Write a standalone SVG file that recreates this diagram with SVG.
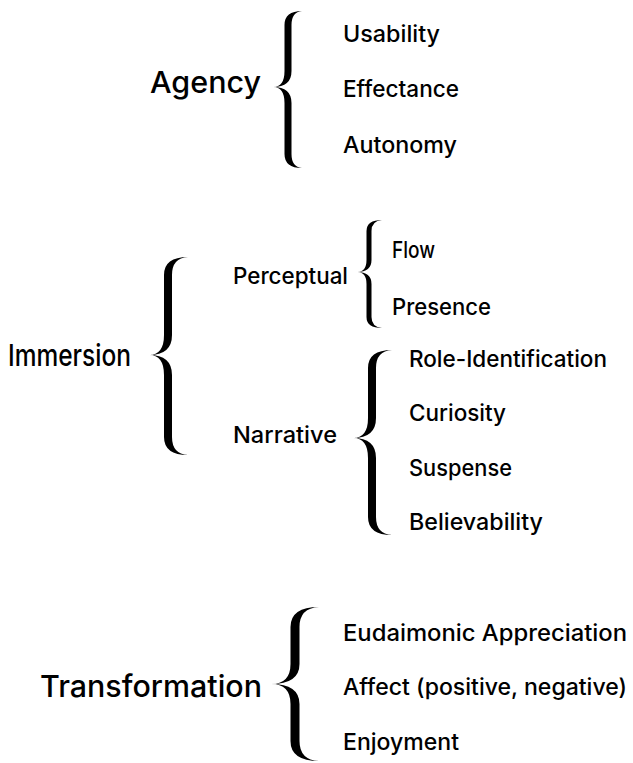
<svg xmlns="http://www.w3.org/2000/svg" width="633" height="763" viewBox="0 0 633 763">
<style>
.t{font-family:"Inter","Liberation Sans",sans-serif;font-weight:500;fill:#000}
.h{font-size:30px}
.s{font-size:22.5px}
.b{fill:#000;stroke:none}
</style>
<rect width="633" height="763" fill="#fff"/>
<g id="connectors">
<path class="b" d="M302,11 Q284.5,11 284.5,25 L284.5,71 Q284.5,87 273,87 Q284.5,87 284.5,103 L284.5,154 Q284.5,168 302,168 Q291.5,167 291.5,154 L291.5,103 Q291.5,87 273,87 Q291.5,87 291.5,71 L291.5,25 Q291.5,12 302,11 Z"/>
<path class="b" d="M188,257 Q164,257 164,275 L164,335 Q164,355 149,355 Q164,355 164,375 L164,437 Q164,455 188,455 Q172,454 172,437 L172,375 Q172,355 149,355 Q172,355 172,335 L172,275 Q172,258 188,257 Z"/>
<path class="b" d="M382,220 Q366.5,220 366.5,231 L366.5,260 Q366.5,272 357,272 Q366.5,272 366.5,284 L366.5,317 Q366.5,328 382,328 Q371.5,327 371.5,317 L371.5,284 Q371.5,272 357,272 Q371.5,272 371.5,260 L371.5,231 Q371.5,221 382,220 Z"/>
<path class="b" d="M392,350 Q368,350 368,368 L368,418 Q368,438 353,438 Q368,438 368,458 L368,517 Q368,535 392,535 Q376,534 376,517 L376,458 Q376,438 353,438 Q376,438 376,418 L376,368 Q376,351 392,350 Z"/>
<path class="b" d="M319,607 Q290.5,607 290.5,627 L290.5,664 Q290.5,684 271,684 Q290.5,684 290.5,704 L290.5,741 Q290.5,761 319,761 Q299.5,760 299.5,741 L299.5,704 Q299.5,684 271,684 Q299.5,684 299.5,664 L299.5,627 Q299.5,608 319,607 Z"/>
</g>
<g id="agency">
<text class="t h" x="150" y="93" textLength="111" lengthAdjust="spacingAndGlyphs">Agency</text>
<text class="t s" x="343" y="42" textLength="97" lengthAdjust="spacingAndGlyphs">Usability</text>
<text class="t s" x="343" y="97" textLength="116" lengthAdjust="spacingAndGlyphs">Effectance</text>
<text class="t s" x="343" y="153" textLength="114" lengthAdjust="spacingAndGlyphs">Autonomy</text>
</g>
<g id="immersion">
<text class="t h" x="8" y="366" textLength="123" lengthAdjust="spacingAndGlyphs">Immersion</text>
</g>
<g id="perceptual">
<text class="t s" x="233" y="284" textLength="115" lengthAdjust="spacingAndGlyphs">Perceptual</text>
<text class="t s" x="392" y="258" textLength="43" lengthAdjust="spacingAndGlyphs">Flow</text>
<text class="t s" x="392" y="315" textLength="99" lengthAdjust="spacingAndGlyphs">Presence</text>
</g>
<g id="narrative">
<text class="t s" x="233" y="443" textLength="104" lengthAdjust="spacingAndGlyphs">Narrative</text>
<text class="t s" x="409" y="367" textLength="198" lengthAdjust="spacingAndGlyphs">Role-Identification</text>
<text class="t s" x="409" y="421" textLength="97" lengthAdjust="spacingAndGlyphs">Curiosity</text>
<text class="t s" x="409" y="476" textLength="103" lengthAdjust="spacingAndGlyphs">Suspense</text>
<text class="t s" x="409" y="530" textLength="134" lengthAdjust="spacingAndGlyphs">Believability</text>
</g>
<g id="transformation">
<text class="t h" x="40" y="697" textLength="222" lengthAdjust="spacingAndGlyphs">Transformation</text>
<text class="t s" x="343" y="641" textLength="284" lengthAdjust="spacingAndGlyphs">Eudaimonic Appreciation</text>
<text class="t s" x="343" y="695" textLength="284" lengthAdjust="spacingAndGlyphs">Affect (positive, negative)</text>
<text class="t s" x="343" y="750" textLength="116" lengthAdjust="spacingAndGlyphs">Enjoyment</text>
</g>
</svg>
